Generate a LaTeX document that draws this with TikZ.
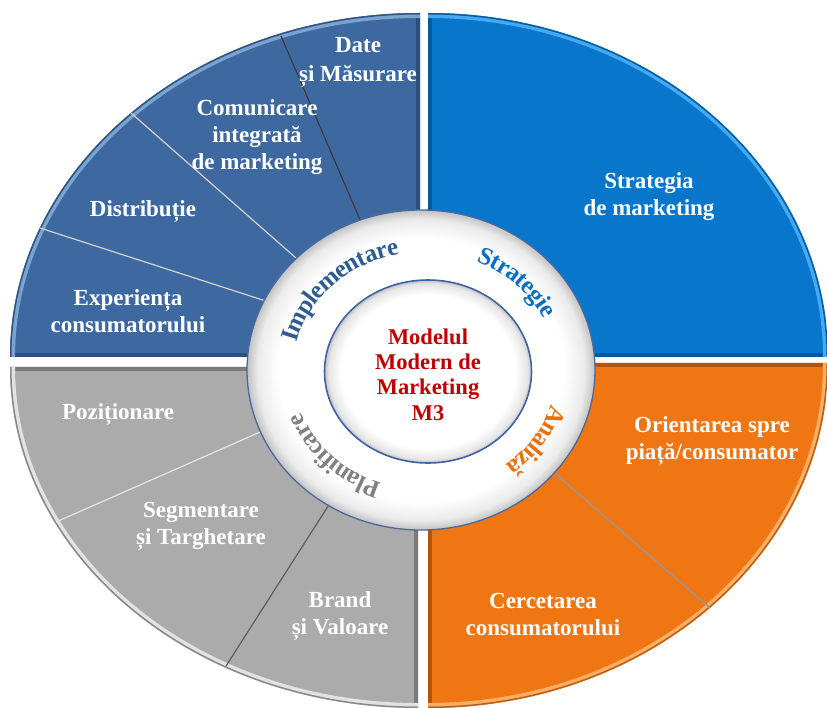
\documentclass[tikz,border=0pt]{standalone}
\usepackage{fontspec}
\setmainfont{Liberation Serif}
\usetikzlibrary{decorations.text}
\definecolor{tlfill}{HTML}{3E69A0}
\definecolor{tllight}{HTML}{7AA3D2}
\definecolor{tldark}{HTML}{1A3558}
\definecolor{trfill}{HTML}{0776CB}
\definecolor{trlight}{HTML}{45A8F2}
\definecolor{trdark}{HTML}{033E68}
\definecolor{brfill}{HTML}{F07614}
\definecolor{brlight}{HTML}{FAAE66}
\definecolor{brdark}{HTML}{7A3305}
\definecolor{blfill}{HTML}{ABABAB}
\definecolor{bllight}{HTML}{E2E2E2}
\definecolor{bldark}{HTML}{4A4A4A}
\definecolor{implcol}{HTML}{2E5C91}
\definecolor{stratcol}{HTML}{0A6FC2}
\definecolor{analcol}{HTML}{E8700F}
\definecolor{plancol}{HTML}{808080}
\definecolor{centercol}{HTML}{BE0000}
\definecolor{ringedge}{HTML}{4A6A9E}
\definecolor{discedge}{HTML}{3F64A6}
\definecolor{divlight}{HTML}{D5D2CC}
\definecolor{divdark}{HTML}{3C3C3C}
\definecolor{divbr}{HTML}{8C9AA8}
\definecolor{divbll}{HTML}{E4E4E4}
\definecolor{divbld}{HTML}{5E5E5E}
\pgfdeclareradialshading{ringshade}{\pgfpoint{0bp}{0bp}}{color(0bp)=(white); color(20.5bp)=(white); color(23.5bp)=(black!8); color(25bp)=(black!24); color(50bp)=(black!24)}
\pgfdeclareradialshading{discshade}{\pgfpoint{0bp}{0bp}}{color(0bp)=(white); color(21bp)=(white); color(24bp)=(black!10); color(25bp)=(black!24); color(50bp)=(black!24)}
\newcommand\ringfont{\fontsize{25}{29}\selectfont\bfseries}
\newcommand\drawsector[9]{%
  \fill[#1] (#4,#5) -- ++(#8:#6 and #7) arc[start angle=#8,end angle=#9,x radius=#6,y radius=#7] -- cycle;
  \begin{scope}
    \clip (#4,#5) -- ++(#8:#6 and #7) arc[start angle=#8,end angle=#9,x radius=#6,y radius=#7] -- cycle;
    \draw[#3, line width=8pt, opacity=0.5] (#4,#5) ++(#8:#6 and #7) -- (#4,#5) -- ++(#9:#6 and #7);
    \draw[#2, line width=10pt] (#4,#5) ++(#8:#6 and #7) arc[start angle=#8,end angle=#9,x radius=#6,y radius=#7];
    \draw[#1!80!black, line width=3pt] (#4,#5) ++(#8:#6 and #7) arc[start angle=#8,end angle=#9,x radius=#6,y radius=#7];
  \end{scope}}
\tikzset{
  lbl/.style={text=white, font=\fontsize{23}{27}\selectfont\bfseries, align=center, inner sep=0pt},
  divider/.style={line width=1.2pt},
  ringtext/.style={decorate, decoration={text along path, text align=center, raise=-8pt}}
}
\begin{document}
\begin{tikzpicture}[x=1pt,y=-1pt]
\useasboundingbox[fill=white] (0,0) rectangle (827,708);
% sectors
\drawsector{tlfill}{tllight}{tldark}{420}{357}{410}{344}{180}{270}
\drawsector{trfill}{trlight}{trdark}{428}{357}{400}{344}{270}{360}
\drawsector{brfill}{brlight}{brdark}{428}{363}{400}{345}{0}{90}
\drawsector{blfill}{bllight}{bldark}{418}{367}{408}{341}{90}{180}
% divider coordinates
\coordinate (t1o) at (40,228);  \coordinate (t1i) at (275,304);
\coordinate (t2o) at (131,113); \coordinate (t2i) at (304,265);
\coordinate (t3o) at (281,36);  \coordinate (t3i) at (364,229);
\coordinate (b1o) at (56,522);  \coordinate (b1i) at (267,429);
\coordinate (b2o) at (226,666); \coordinate (b2i) at (332,500);
\coordinate (r1o) at (710,608); \coordinate (r1i) at (550,469);
\draw[divider, divlight] (t1o) -- (t1i);
\draw[divider, divlight] (t2o) -- (t2i);
\draw[divider, divdark] (t3o) -- (t3i);
\draw[divider, divbll] (b1o) -- (b1i);
\draw[divider, divbld] (b2o) -- (b2i);
\draw[divider, divbr] (r1o) -- (r1i);
% ring
\shade[shading=ringshade] (421,370) ellipse[x radius=174, y radius=160];
\draw[ringedge, line width=1.3pt] (421,370) ellipse[x radius=174, y radius=160];
\shade[shading=discshade] (428,371.5) ellipse[x radius=103.5, y radius=91.5];
\draw[discedge, line width=1.6pt] (428,371.5) ellipse[x radius=103.5, y radius=91.5];
% ring texts
\path[ringtext, decoration={text={|\color{implcol}\ringfont|Implementare}}]
  (425,371) ++(186:140 and 127) arc[start angle=186, end angle=266, x radius=140, y radius=127];
\path[ringtext, decoration={text={|\color{stratcol}\ringfont|Strategie}}]
  (425,371) ++(278:140 and 127) arc[start angle=278, end angle=350, x radius=140, y radius=127];
\path[ringtext, decoration={text={|\color{analcol}\ringfont|Analiză}}]
  (425,371) ++(-2:140 and 127) arc[start angle=-2, end angle=70, x radius=140, y radius=127];
\path[ringtext, decoration={text={|\color{plancol}\ringfont|Planificare}}]
  (425,371) ++(94:140 and 127) arc[start angle=94, end angle=176, x radius=140, y radius=127];
% center text
\node[inner sep=0pt, align=center, text=centercol, font=\fontsize{22.5}{25.3}\selectfont\bfseries] (center) at (428,374.5) {Modelul\\Modern de\\Marketing\\M3};
% labels
\node[lbl, font=\fontsize{23}{29}\selectfont\bfseries] (date) at (358,62) {Date\\și Măsurare};
\node[lbl] (comm) at (257,137) {Comunicare\\integrată\\de marketing};
\node[lbl] (dist) at (143,211.5) {Distribuție};
\node[lbl] (exp) at (128,311) {Experiența\\consumatorului};
\node[lbl] (strat) at (649,196.5) {Strategia\\de marketing};
\node[lbl] (orient) at (712,441) {Orientarea spre\\piață/consumator};
\node[lbl] (cerc) at (543,614.5) {Cercetarea\\consumatorului};
\node[lbl] (poz) at (118,414.5) {Poziționare};
\node[lbl] (seg) at (201,526) {Segmentare\\și Targhetare};
\node[lbl] (brand) at (340,616) {Brand\\și Valoare};
\end{tikzpicture}
\end{document}
